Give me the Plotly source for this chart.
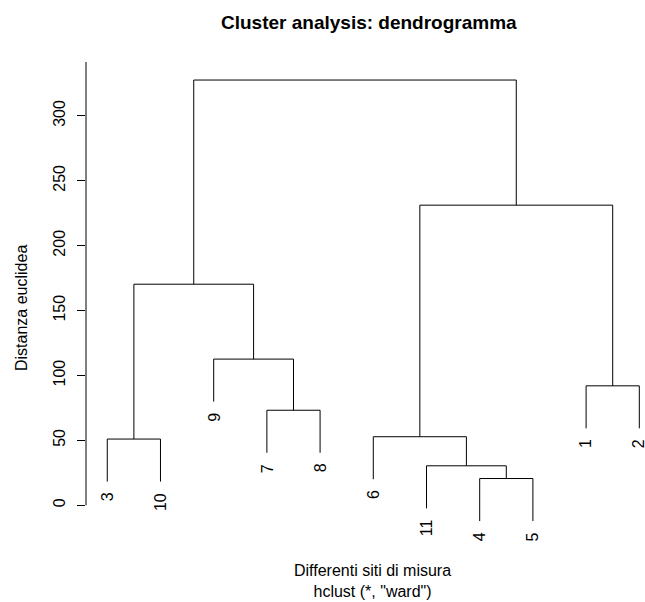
import plotly.graph_objects as go

# hclust ("ward") result
leaf_order = [3, 10, 9, 7, 8, 6, 11, 4, 5, 1, 2]
merge_left = [-4, -11, -3, -6, -7, -1, -9, 3, 4, 8]
merge_right = [-5, 1, -10, 2, -8, -2, 5, 7, 6, 9]
merge_height = [20.6, 30.4, 51.0, 52.8, 73.2, 92.0, 112.6, 170.3, 231.2, 327.6]
y_ticks = [0, 50, 100, 150, 200, 250, 300]

hang = 0.1 * max(merge_height)
leaf_pos = {lab: i + 1 for i, lab in enumerate(leaf_order)}

cl_x = {}
xs, ys = [], []
leaf_end = {}


def child_info(c, h):
    if c < 0:
        lab = -c
        y0 = h - hang
        leaf_end[lab] = y0
        return leaf_pos[lab], y0
    return cl_x[c], merge_height[c - 1]


for k in range(len(merge_height)):
    h = merge_height[k]
    xl, yl = child_info(merge_left[k], h)
    xr, yr = child_info(merge_right[k], h)
    xs += [xl, xl, xr, xr, None]
    ys += [yl, h, h, yr, None]
    cl_x[k + 1] = (xl + xr) / 2

FONT = "Liberation Sans, Arial, sans-serif"
L, T, B, W, H = 86, 62, 63, 645, 602
PW = W - L
PH = H - T - B

fig = go.Figure()
fig.add_trace(go.Scatter(x=xs, y=ys, mode="lines",
                         line=dict(color="black", width=1),
                         hoverinfo="skip", showlegend=False))

for lab in leaf_order:
    fig.add_annotation(x=leaf_pos[lab], y=leaf_end[lab], text=str(lab),
                       textangle=-90, showarrow=False, xanchor="center",
                       yanchor="top", yshift=-9,
                       font=dict(family=FONT, size=16, color="black"))

# y axis line
fig.add_shape(type="line", xref="paper", yref="y", x0=0, x1=0,
              y0=0, y1=341.5, line=dict(color="black", width=1))

# title
fig.add_annotation(xref="paper", yref="paper", x=(369 - L) / PW, y=1,
                   xanchor="center", yanchor="middle", yshift=T - 22,
                   text="<b>Cluster analysis: dendrogramma</b>",
                   showarrow=False,
                   font=dict(family=FONT, size=19, color="black"))
# x label + sub
fig.add_annotation(xref="paper", yref="paper", x=(372 - L) / PW, y=0,
                   xanchor="center", yanchor="top", yshift=-(570 - (H - B) - 10),
                   text="Differenti siti di misura<br>hclust (*, \"ward\")",
                   showarrow=False,
                   font=dict(family=FONT, size=16, color="black"))
# y label
fig.add_annotation(xref="paper", yref="paper", x=0, xshift=-(L - 21),
                   xanchor="center", yanchor="middle",
                   y=((H - B) - 308) / PH, textangle=-90,
                   text="Distanza euclidea", showarrow=False,
                   font=dict(family=FONT, size=16, color="black"))

fig.update_layout(
    width=W, height=H,
    margin=dict(l=L, r=0, t=T, b=B),
    paper_bgcolor="white", plot_bgcolor="white",
    showlegend=False,
    xaxis=dict(range=[0.6, 11.107], visible=False),
    yaxis=dict(range=[-26, 341.5], tickvals=y_ticks,
               ticktext=[str(v) for v in y_ticks],
               tickangle=-90, ticks="outside", ticklen=8, tickcolor="black",
               tickwidth=1, showgrid=False, zeroline=False, showline=False,
               ticklabelstandoff=6,
               tickfont=dict(family=FONT, size=16, color="black")),
)

fig.write_html("out.html")
